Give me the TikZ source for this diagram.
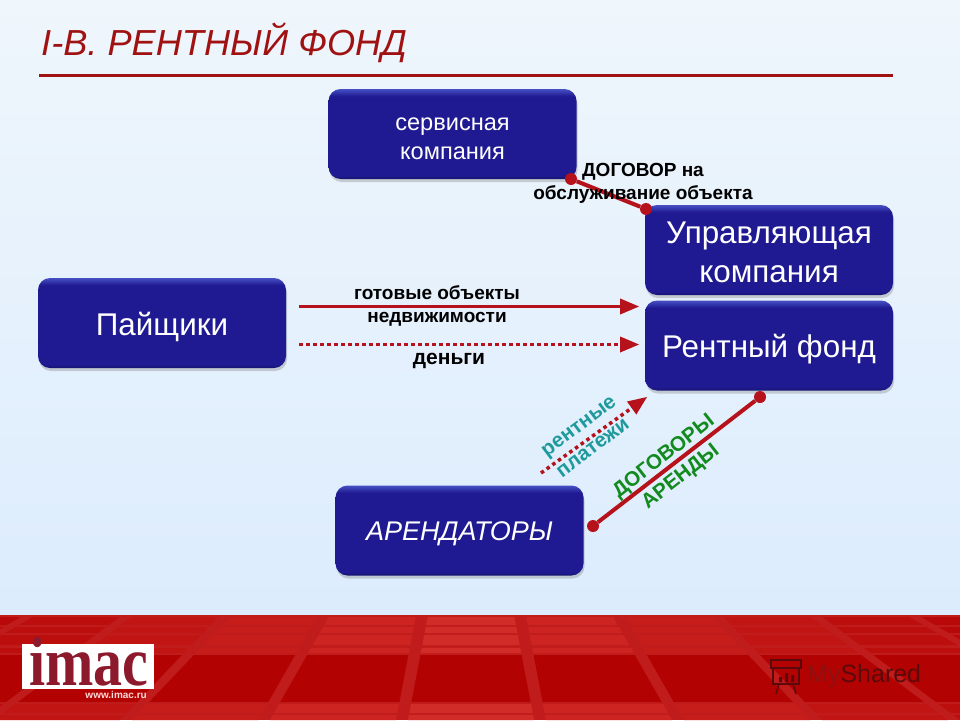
\documentclass[tikz,border=0pt]{standalone}
\usepackage{fontspec}
\setmainfont{Liberation Sans}
\newfontfamily\logofont{Liberation Serif}
\usetikzlibrary{arrows, shadows}

\definecolor{fundblue}{HTML}{201A92}
\definecolor{fundtop}{HTML}{4650C4}
\definecolor{fundlow}{HTML}{15136E}
\definecolor{linered}{HTML}{B5121B}
\definecolor{titlered}{HTML}{A01212}
\definecolor{bandred}{HTML}{C01C1C}
\definecolor{tilered}{HTML}{D22C28}
\definecolor{darkred}{HTML}{B30202}
\definecolor{labelteal}{HTML}{1F9A9C}
\definecolor{labelgreen}{HTML}{128A1E}
\definecolor{logored}{HTML}{8C1A2C}
\definecolor{paletop}{HTML}{EFF6FC}
\definecolor{palelow}{HTML}{DCECFD}
\definecolor{markred}{HTML}{8E1010}
\definecolor{markdark}{HTML}{5A0A0A}

\pgfdeclareverticalshading{fundshade}{100bp}{color(0bp)=(fundlow); color(25bp)=(fundlow); color(27bp)=(fundblue); color(71bp)=(fundblue); color(75bp)=(fundtop); color(100bp)=(fundtop)}

\newcommand{\drop}[1]{\rule{0pt}{#1}}

\tikzset{
  fundbox/.style={rounded corners=12pt, minimum width=248pt, minimum height=90pt, align=center,
    text=white, shade, shading=fundshade,
    drop shadow={shadow xshift=1pt, shadow yshift=-3pt, opacity=.35}},
  bigtext/.style={font=\fontsize{31.4}{39}\selectfont},
  smalltext/.style={font=\fontsize{23.6}{29.5}\selectfont},
  dealtext/.style={font=\bfseries\fontsize{19}{23}\selectfont, align=center, text=black},
  tiltedtext/.style={inner sep=0pt, font=\bfseries\fontsize{20.6}{22}\selectfont},
  dotend/.style={circle, fill=linered, inner sep=0pt, minimum size=12pt},
  dealline/.style={linered, line width=4pt},
  flowline/.style={linered, line width=3.5pt, ->, >=triangle 45},
  flowdots/.style={flowline, dash pattern=on 3.5pt off 3.5pt}
}

\begin{document}
\begin{tikzpicture}[x=1pt, y=-1pt]

%background and title
\useasboundingbox (0,0) rectangle (960,720);
\fill[top color=paletop, bottom color=palelow] (0,0) rectangle (960,616);
\node[anchor=west, inner sep=0pt, font=\itshape\fontsize{36.2}{40}\selectfont, text=titlered] (title) at (41,43) {I-В. РЕНТНЫЙ ФОНД};
\coordinate (ruleL) at (39,75.5);
\coordinate (ruleR) at (893,75.5);
\draw[line width=3pt, titlered] (ruleL) -- (ruleR);

%red band with the windows
\fill[bandred] (0,615) rectangle (960,720);
\foreach \ya/\yb/\tile in {617/625/tilered, 627/633/tilered, 635/645/tilered, 648/653/tilered, 655/702/darkred, 704/713/tilered, 715/720/tilered}
  \foreach \k in {-4,...,6} {
    \pgfmathsetmacro{\wa}{98+40*(\ya-615)/105}
    \pgfmathsetmacro{\wb}{98+40*(\yb-615)/105}
    \pgfmathsetmacro{\mixp}{max(15,100-18*abs(\k-1))}
    \fill[\tile!\mixp!darkred] ({471+\wa*(\k-1.5)+6},\ya) -- ({471+\wa*(\k-0.5)-6},\ya) -- ({471+\wb*(\k-0.5)-6},\yb) -- ({471+\wb*(\k-1.5)+6},\yb) -- cycle;
  }

%logo and watermark
\node[fill=white, minimum width=132pt, minimum height=45pt, inner sep=0pt] (logobox) at (88,666.5) {};
\node[anchor=base, inner sep=0pt, font=\logofont\bfseries\fontsize{58}{58}\selectfont, text=logored] (logo) at (89,685) {\scalebox{1}[1.2]{imac}};
\node[anchor=east, inner sep=0pt, font=\bfseries\fontsize{10}{12}\selectfont, text=white!85!red] (logourl) at (147,695) {www.imac.ru};
\begin{scope}[markdark]
\draw[line width=1.5pt] (771,660) rectangle (801,668);
\draw[line width=1.5pt] (773,668) rectangle (799,684);
\draw[line width=1.5pt] (779,684) -- (776,694) (793,684) -- (796,694);
\fill (779,677) rectangle (782,682) (785,673) rectangle (788,682) (791,675) rectangle (794,682);
\node[anchor=west, inner sep=0pt, font=\fontsize{25}{30}\selectfont, text=markdark] (shared) at (807,676) {{\color{markred}My}Shared};
\end{scope}

%main boxes
\node[fundbox, smalltext] (service) at (452.5,134) {\drop{22pt}сервисная\\компания};
\node[fundbox, bigtext] (manager) at (769,250) {\drop{26pt}Управляющая\\компания};
\node[fundbox, bigtext] (fund) at (769,345.5) {\drop{30pt}Рентный фонд};
\node[fundbox, bigtext] (holders) at (162,323) {\drop{32pt}Пайщики};
\node[fundbox, font=\itshape\fontsize{27}{30}\selectfont] (tenants) at (459.5,530.5) {\drop{26pt}АРЕНДАТОРЫ};

%service contract
\node[dotend] (serviceDot) at (571,179) {};
\node[dotend] (managerDot) at (646,209) {};
\draw[dealline] (serviceDot) -- (managerDot);
\node[dealtext] (serviceDeal) at (643,183.5) {ДОГОВОР на\\обслуживание объекта};

%flows from the holders to the fund
\coordinate (objectsA) at (299,306.5);
\coordinate (objectsB) at (639,306.5);
\coordinate (moneyA) at (299,344.5);
\coordinate (moneyB) at (639,344.5);
\draw[flowline] (objectsA) -- (objectsB);
\draw[flowdots] (moneyA) -- (moneyB);
\node[dealtext] (objects) at (437,305.5) {готовые объекты\\недвижимости};
\node[dealtext, font=\bfseries\fontsize{21}{23}\selectfont] (money) at (449,361) {деньги};

%payments and lease contracts
\coordinate (rentA) at (541,473);
\coordinate (rentB) at (647,397);
\draw[flowdots] (rentA) -- (rentB);
\node[tiltedtext, rotate=37, text=labelteal] (rentUp) at (580,428) {рентные};
\node[tiltedtext, rotate=37, text=labelteal] (rentDown) at (593,448) {платежи};
\node[dotend] (tenantDot) at (593,526) {};
\node[dotend] (fundDot) at (760,397) {};
\draw[dealline] (tenantDot) -- (fundDot);
\node[tiltedtext, rotate=38, text=labelgreen] (leaseUp) at (664,457) {ДОГОВОРЫ};
\node[tiltedtext, rotate=38, text=labelgreen] (leaseDown) at (681,477) {АРЕНДЫ};

\end{tikzpicture}
\end{document}
